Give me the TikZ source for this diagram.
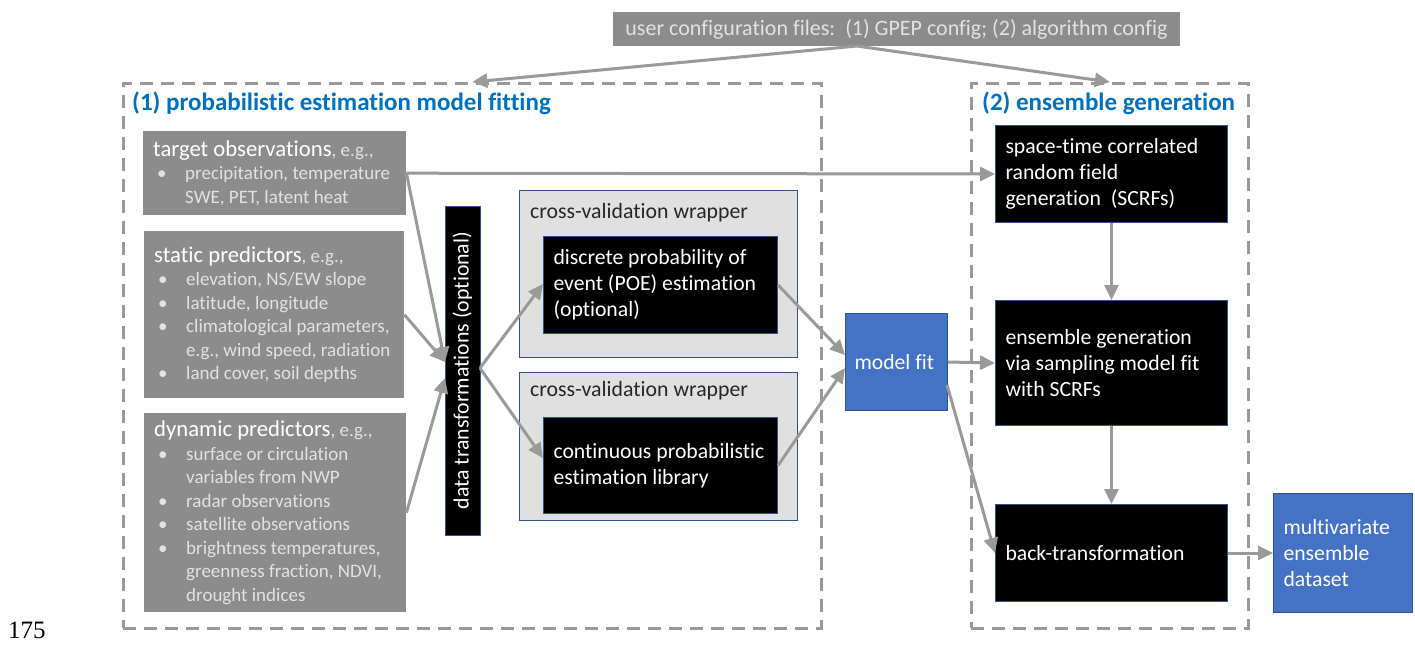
\documentclass[tikz,border=0pt]{standalone}
\usepackage{fontspec}
\setmainfont{Carlito}[Ligatures=NoCommon]
\newfontfamily\numfont{Liberation Serif}
\usetikzlibrary{arrows.meta}
\definecolor{boxgray}{HTML}{8C8C8C}
\definecolor{bultext}{HTML}{E2E2E2}
\definecolor{cvfill}{HTML}{E0E0E0}
\definecolor{navy}{HTML}{2F528F}
\definecolor{fitblue}{HTML}{4472C4}
\definecolor{titleblue}{HTML}{0070C0}
\definecolor{arrgray}{HTML}{9A9A9A}
\definecolor{dashgray}{HTML}{999999}
\newcommand{\bul}{\hspace*{4pt}\makebox[28pt][l]{•}}
\newcommand{\cont}{\hspace*{32pt}}
\newcommand{\hdfont}{\color{white}\fontsize{22.7}{23.5}\selectfont}
\newcommand{\nohyph}{\hyphenpenalty=10000\exhyphenpenalty=10000\relax}
\begin{document}
\begin{tikzpicture}[x=1pt,y=-1pt,
  graybox/.style={fill=boxgray, draw=none, anchor=north west, inner xsep=10pt, inner ysep=0pt, align=flush left, text=bultext, font=\fontsize{19}{23.5}\selectfont\nohyph},
  cfgbox/.style={fill=boxgray, draw=none, text=bultext, minimum width=567pt, minimum height=34pt, inner sep=0pt, font=\fontsize{22}{24}\selectfont},
  dashbox/.style={draw=dashgray, line width=2.6pt, dash pattern=on 13pt off 8pt, anchor=north west, inner sep=0pt},
  grouptitle/.style={anchor=west, text=titleblue, inner sep=0pt, font=\bfseries\fontsize{25}{27}\selectfont},
  blackbox/.style={fill=black, draw=navy, line width=1pt, text=white, anchor=north west, align=flush left, inner xsep=10pt, inner ysep=0pt, font=\fontsize{21.7}{26}\selectfont\nohyph},
  bluebox/.style={fill=fitblue, draw=navy, line width=1pt, text=white, anchor=north west, align=flush left, inner xsep=10pt, inner ysep=0pt, font=\fontsize{21.7}{26}\selectfont\nohyph},
  cvbox/.style={fill=cvfill, draw=navy, line width=1pt, anchor=north west, inner sep=0pt},
  cvlabel/.style={anchor=west, inner sep=0pt, text=black!85, font=\fontsize{21.8}{24}\selectfont},
  arr/.style={draw=arrgray, line width=3pt, -{Triangle[length=15pt,width=14pt]}}
]
\useasboundingbox (0,0) rectangle (1415,646);

% group frames
\node[dashbox, minimum width=698pt, minimum height=545pt] (fitframe) at (122,82) {};
\node[dashbox, minimum width=277pt, minimum height=545pt] (ensframe) at (970,82) {};
\node[grouptitle] (t1) at (132,103) {(1) probabilistic estimation model fitting};
\node[grouptitle] (t2) at (982,103) {(2) ensemble generation};

% configuration
\node[cfgbox] (cfg) at (896.5,29) {user configuration files:\ \ (1) GPEP config; (2) algorithm config};
\coordinate (cfgout) at (857,46);

% inputs
\node[graybox, text width=243pt, minimum height=84pt] (target) at (143,131)
 {{\hdfont target observations}, e.g.,\\
  \bul precipitation, temperature\\
  \cont SWE, PET, latent heat};
\node[graybox, text width=240pt, minimum height=167pt] (static) at (144,231)
 {{\hdfont static predictors}, e.g.,\\
  \bul elevation, NS/EW slope\\
  \bul latitude, longitude\\
  \bul climatological parameters,\\
  \cont e.g., wind speed, radiation\\
  \bul land cover, soil depths};
\node[graybox, text width=242pt, minimum height=199pt] (dynamic) at (144,413)
 {{\hdfont dynamic predictors}, e.g.,\\
  \bul surface or circulation\\
  \cont variables from NWP\\
  \bul radar observations\\
  \bul satellite observations\\
  \bul brightness temperatures,\\
  \cont greenness fraction, NDVI,\\
  \cont drought indices};

% data transformations
\node[fill=black, draw=navy, line width=1pt, text=white, rotate=90, minimum width=329pt, minimum height=35pt, inner sep=0pt, font=\fontsize{21.8}{24}\selectfont] (dt) at (462.5,370.5) {data transformations (optional)};

% cross-validation wrappers
\node[cvbox, minimum width=278pt, minimum height=167pt] (cv1) at (519,190) {};
\node[cvlabel] (cv1l) at (530,213) {cross-validation wrapper};
\node[blackbox, text width=214pt, minimum height=97pt] (poe) at (543,236)
 {discrete probability of\\ event (POE) estimation\\ (optional)};
\node[cvbox, minimum width=278pt, minimum height=148pt] (cv2) at (519,372) {};
\node[cvlabel] (cv2l) at (530,391) {cross-validation wrapper};
\node[blackbox, text width=214pt, minimum height=96pt] (cont) at (543,417)
 {continuous probabilistic\\ estimation library};

% model fit
\node[bluebox, text width=84pt, inner xsep=9pt, minimum height=97pt] (fit) at (845,313) {model fit};

% ensemble generation
\node[blackbox, text width=212pt, minimum height=97pt] (scrf) at (995,125)
 {space-time correlated\\ random field\\ generation\ \ (SCRFs)};
\node[blackbox, text width=212pt, minimum height=125pt] (ens) at (995,300)
 {ensemble generation\\ via sampling model fit\\ with SCRFs};
\node[blackbox, text width=212pt, minimum height=97pt] (back) at (995,504)
 {back-transformation};
\node[bluebox, text width=119pt, minimum height=119pt] (mv) at (1273,493)
 {multivariate\\ ensemble\\ dataset};

\node[inner sep=0pt, font=\numfont\fontsize{25}{28}\selectfont] (num) at (27,630) {175};

% connector end points
\coordinate (dtin1) at (445,362);
\coordinate (dtin2) at (445,378);
\coordinate (dtout) at (480,368);
\coordinate (poein) at (543,284);
\coordinate (contin) at (543,458);
\coordinate (fitin1) at (845,355);
\coordinate (fitin2) at (845,368);
\coordinate (fitout) at (947,385);

% connectors
\draw[arr] (cfgout) -- (fitframe.north);
\draw[arr] (cfgout) -- (ensframe.north);
\draw[arr] (target.east) -- (scrf.west);
\draw[arr] (target.east) -- (dtin1);
\draw[arr] (static.east) -- (dtin1);
\draw[arr] (dynamic.east) -- (dtin2);
\draw[arr] (dtout) -- (poein);
\draw[arr] (dtout) -- (contin);
\draw[arr] (poe.east) -- (fitin1);
\draw[arr] (cont.east) -- (fitin2);
\draw[arr] (fit.east) -- (ens.west);
\draw[arr] (fitout) -- (back.west);
\draw[arr] (scrf.south) -- (ens.north);
\draw[arr] (ens.south) -- (back.north);
\draw[arr] (back.east) -- (mv.west);
\end{tikzpicture}
\end{document}
